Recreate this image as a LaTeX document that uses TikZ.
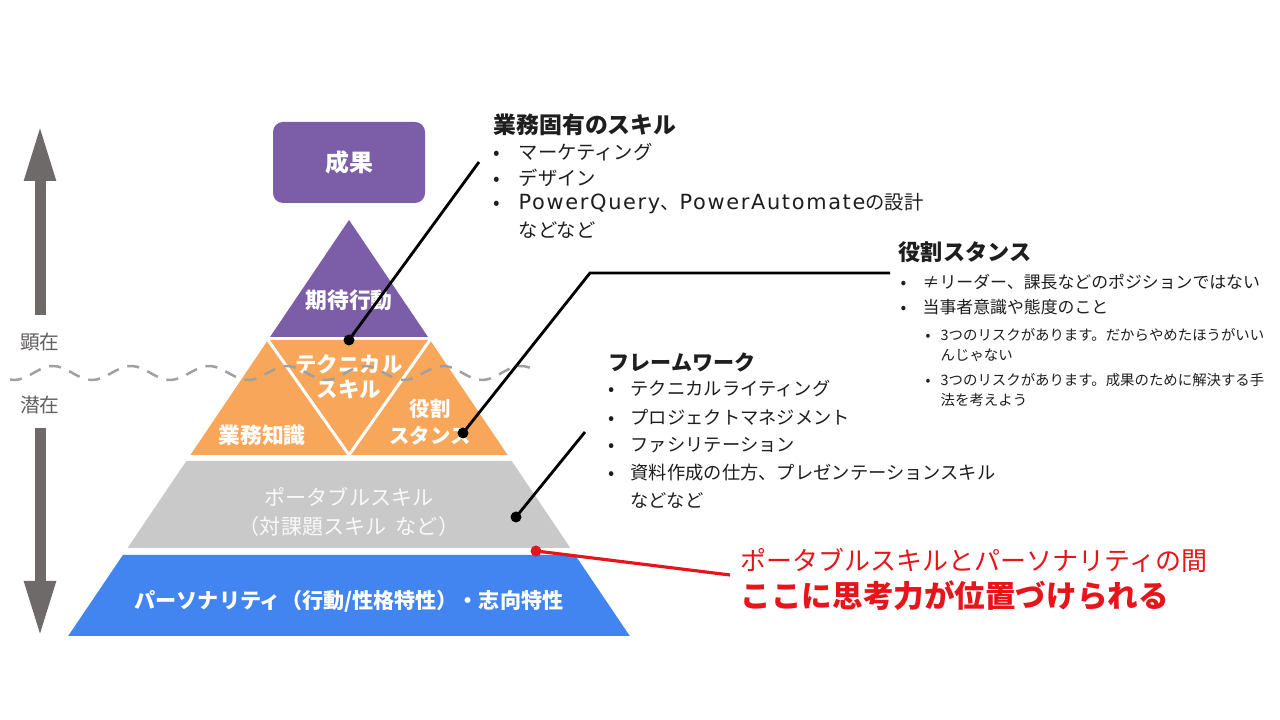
\documentclass[tikz,border=0pt]{standalone}
\usepackage{fontspec}
\setmainfont{Noto Sans CJK JP}
\newfontfamily\latw[Scale=1.08,LetterSpace=8]{DejaVu Sans}
\usetikzlibrary{arrows.meta}
\definecolor{kpurple}{RGB}{123,94,167}
\definecolor{korange}{RGB}{248,166,90}
\definecolor{kgray}{RGB}{201,201,201}
\definecolor{kblue}{RGB}{66,133,240}
\definecolor{karrow}{RGB}{110,106,106}
\definecolor{kred}{RGB}{230,20,27}
\definecolor{ktext}{RGB}{30,30,30}
\definecolor{kdash}{RGB}{160,160,160}
\newcommand{\fsz}[2]{\fontsize{#1}{#2}\selectfont}
\newcommand{\itm}[1]{\makebox[#1][l]{•}}
\begin{document}
\begin{tikzpicture}[>=latex,
  lead/.style={line width=0.8pt,black},
  gar/.style={line width=0.11cm,karrow,-{Triangle[length=0.56cm,width=0.29cm]}},
  inlbl/.style={text=white,font=\bfseries\fsz{6.2}{7.2},align=center,inner sep=0},
  hd/.style={anchor=west,inner sep=0,font=\bfseries\fsz{6.5}{8},text=ktext},
  itemA/.style={anchor=west,inner sep=0,font=\fsz{5.5}{7},text=ktext},
  itemB/.style={anchor=west,inner sep=0,font=\fsz{4.8}{6},text=ktext},
  itemC/.style={anchor=west,inner sep=0,font=\fsz{4.1}{5},text=ktext},
  itemD/.style={anchor=west,inner sep=0,font=\fsz{5.2}{6.5},text=ktext}]
\useasboundingbox[fill=white] (0,0) rectangle (12.8,7.2);
% left arrows
\coordinate (ua) at (0.40,4.05); \coordinate (ub) at (0.40,5.95);
\coordinate (da) at (0.40,2.92); \coordinate (db) at (0.40,0.83);
\draw[gar] (ua)--(ub);
\draw[gar] (da)--(db);
\node[text=karrow!90!black,font=\fsz{5.6}{6}] (kenzai) at (0.40,3.78){顕在};
\node[text=karrow!90!black,font=\fsz{5.6}{6}] (senzai) at (0.40,3.15){潜在};
% pyramid
\node[fill=kpurple,rounded corners=0.1cm,minimum width=1.52cm,minimum height=0.81cm,text=white,font=\bfseries\fsz{6.8}{7}] (seika) at (3.49,5.575){成果};
\fill[kpurple] (3.49,5.00)--(4.28,3.83)--(2.70,3.83)--cycle;
\fill[korange] (2.68,3.80)--(4.30,3.80)--(5.076,2.65)--(1.904,2.65)--cycle;
\draw[white,line width=0.03cm] (2.68,3.80)--(3.49,2.65)--(4.30,3.80);
\fill[kgray] (1.863,2.59)--(5.117,2.59)--(5.704,1.72)--(1.276,1.72)--cycle;
\fill[kblue] (1.229,1.65)--(5.751,1.65)--(6.298,0.84)--(0.682,0.84)--cycle;
\node[inlbl] (kitai) at (3.49,4.20){期待行動};
\node[inlbl,font=\bfseries\fsz{6.1}{7.1}] (tech) at (3.49,3.43){テクニカル\\スキル};
\node[inlbl] (chishiki) at (2.62,2.85){業務知識};
\node[inlbl,font=\bfseries\fsz{5.8}{7.7}] (yakuwari) at (4.30,2.98){役割\\スタンス};
\node[inlbl,text=white!95!gray,font=\fsz{6}{8.2}] (portable) at (3.49,2.08){ポータブルスキル\\（対課題スキル\ \ など）};
\node[inlbl,font=\bfseries\fsz{6}{7}] (persona) at (3.49,1.19){パーソナリティ（行動/性格特性）・志向特性};
% wave
\draw[kdash,line width=0.025cm,dash pattern=on 0.12cm off 0.09cm] plot[domain=0.1:5.3,samples=120] (\x,{3.47+0.07*cos(360*(\x-0.53)/0.78)});
% leaders
\coordinate (p1) at (3.49,3.80); \coordinate (q1) at (4.79,5.58);
\coordinate (p2) at (4.63,2.87); \coordinate (k2) at (5.90,4.47); \coordinate (r2) at (8.90,4.47);
\coordinate (p3) at (5.16,2.03); \coordinate (q3) at (5.85,2.88);
\coordinate (p4) at (5.36,1.69); \coordinate (q4) at (7.30,1.45);
\draw[lead] (p1)--(q1);
\draw[lead] (p2)--(k2)--(r2);
\draw[lead] (p3)--(q3);
\draw[kred,line width=0.9pt] (p4)--(q4);
\fill (p1) circle (0.055); \fill (p2) circle (0.055); \fill (p3) circle (0.055);
\fill[kred] (p4) circle (0.055);
% texts
\node[hd] (gyomu) at (4.93,5.95){業務固有のスキル};
\foreach \t [count=\i] in {マーケティング,デザイン,{{\latw PowerQuery}、{\latw PowerAutomate}の設計}}
  \node[itemA] (g\i) at (4.93,{5.94-0.26*\i}){\itm{0.25cm}\t};
\node[itemA] (g4) at (5.18,4.90){などなど};
\node[hd,font=\bfseries\fsz{6.3}{8}] (stance) at (8.98,4.68){役割スタンス};
\node[itemB] (s1) at (9.00,4.38){\itm{0.22cm}≠リーダー、課長などのポジションではない};
\node[itemB] (s2) at (9.00,4.13){\itm{0.22cm}当事者意識や態度のこと};
\node[itemC] (s3) at (9.25,3.85){\itm{0.15cm}3つのリスクがあります。だからやめたほうがいい};
\node[itemC] (s4) at (9.40,3.65){んじゃない};
\node[itemC] (s5) at (9.25,3.40){\itm{0.15cm}3つのリスクがあります。成果のために解決する手};
\node[itemC] (s6) at (9.40,3.20){法を考えよう};
\node[hd,font=\bfseries\fsz{6}{8}] (frame) at (6.08,3.58){フレームワーク};
\foreach \t [count=\i] in {テクニカルライティング,プロジェクトマネジメント,ファシリテーション,{資料作成の仕方、プレゼンテーションスキル}}
  \node[itemD] (f\i) at (6.08,{3.59-0.28*\i}){\itm{0.22cm}\t};
\node[itemD] (f5) at (6.30,2.19){などなど};
\node[anchor=west,inner sep=0,text=kred,font=\fsz{7.4}{8}] (red1) at (7.40,1.60){ポータブルスキルとパーソナリティの間};
\node[anchor=west,inner sep=0,text=kred,font=\bfseries\fsz{8.7}{9}] (red2) at (7.40,1.24){ここに思考力が位置づけられる};
\end{tikzpicture}
\end{document}
